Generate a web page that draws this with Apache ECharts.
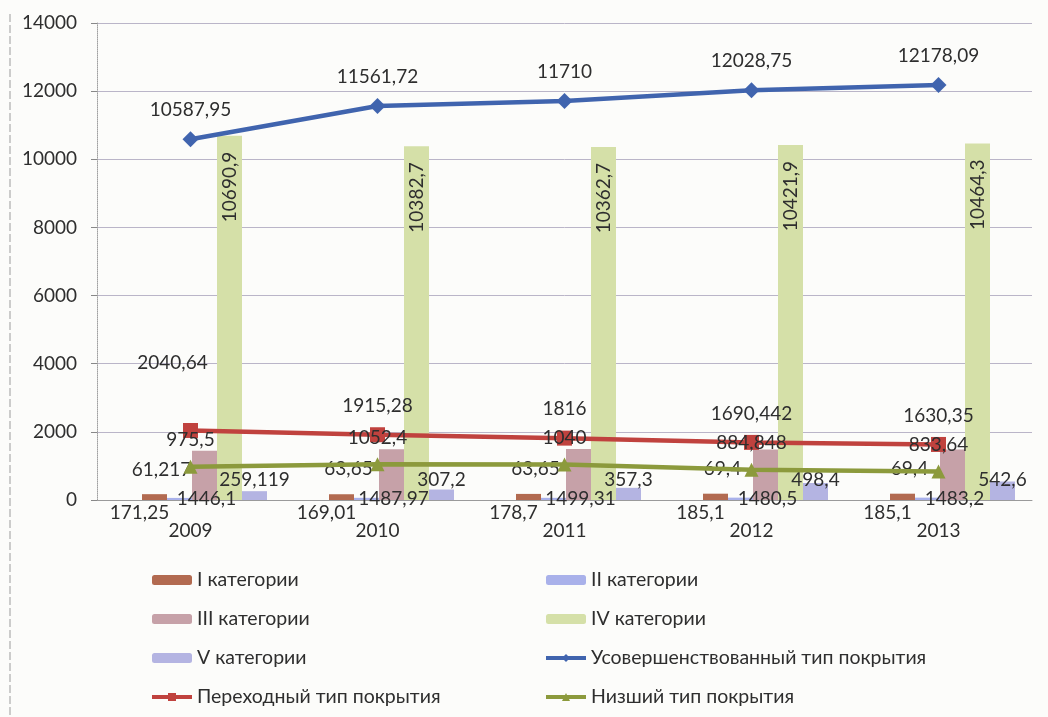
<!DOCTYPE html>
<html>
<head>
<meta charset="utf-8">
<title>Покрытие</title>
<script src="https://cdn.jsdelivr.net/npm/echarts@6/dist/echarts.min.js"></script>
<style>
  html, body { margin: 0; padding: 0; background: #fcfcfa; }
  #main { width: 1048px; height: 717px; }
</style>
</head>
<body>
<div id="main"></div>
<script>
var years = ['2009', '2010', '2011', '2012', '2013'];

// столбцы
var cat1 = [171.25, 169.01, 178.7, 185.1, 185.1];
var cat2 = [61.217, 63.65, 63.65, 69.4, 69.4];
var cat3 = [1446.1, 1487.97, 1499.31, 1480.5, 1483.2];
var cat4 = [10690.9, 10382.7, 10362.7, 10421.9, 10464.3];
var cat5 = [259.119, 307.2, 357.3, 498.4, 542.6];

// линии
var improved = [10587.95, 11561.72, 11710, 12028.75, 12178.09];
var transitional = [2040.64, 1915.28, 1816, 1690.442, 1630.35];
var lowest = [975.5, 1052.4, 1040, 884.848, 833.64];

var myChart = echarts.init(document.getElementById('main'));
var font = 'Lato, "Open Sans", sans-serif';
var txt = '#2e2e2e';

function fmt(v) {
    return String(v).replace('.', ',');
}

// сдвиг подписи для одной точки, как на исходнике
function shifted(values, idx, offset) {
    return values.map(function (v, i) {
        if (i !== idx) return v;
        return { value: v, label: { offset: offset } };
    });
}

function barSeries(name, data, color, label) {
    return {
        name: name,
        type: 'bar',
        xAxisIndex: 1,
        yAxisIndex: 1,
        barWidth: 25,
        barGap: '0%',
        itemStyle: { color: color },
        label: Object.assign({
            show: true,
            color: txt,
            fontFamily: font,
            fontSize: 19,
            formatter: function (p) { return fmt(p.value); }
        }, label),
        data: data,
        z: 2
    };
}

function lineSeries(name, data, color, symbol, size, label) {
    return {
        name: name,
        type: 'line',
        symbol: symbol,
        symbolSize: size,
        lineStyle: { color: color, width: 4.5 },
        itemStyle: { color: color },
        label: Object.assign({
            show: true,
            position: 'top',
            color: txt,
            fontFamily: font,
            fontSize: 19,
            formatter: function (p) { return fmt(p.value); }
        }, label),
        data: data,
        z: 5
    };
}

var legendText = { color: txt, fontSize: 19.5, lineHeight: 20, fontFamily: font };

var option = {
    backgroundColor: '#fcfcfa',
    animation: false,
    textStyle: { fontFamily: font },
    grid: [
        { left: 97, top: 23, width: 935, height: 477 },
        { left: 111, top: 23, width: 935, height: 477 }
    ],
    xAxis: [
        {
            type: 'category',
            gridIndex: 0,
            data: years,
            axisLine: { lineStyle: { color: '#9a9a9a' } },
            axisTick: { show: false },
            axisLabel: { color: txt, fontSize: 19, margin: 21, fontFamily: font }
        },
        {
            type: 'category',
            gridIndex: 1,
            data: years,
            show: false
        }
    ],
    yAxis: [
        {
            type: 'value',
            gridIndex: 0,
            min: 0,
            max: 14000,
            interval: 2000,
            axisLine: { show: true, lineStyle: { color: '#a0a0a0', type: 'dotted' } },
            axisTick: { show: true, length: 6, lineStyle: { color: '#888' } },
            axisLabel: {
                color: txt, fontSize: 19, margin: 20, fontFamily: font,
                formatter: function (v) { return String(v); }
            },
            splitLine: { lineStyle: { color: '#bab5c8', width: 1 } }
        },
        {
            type: 'value',
            gridIndex: 1,
            min: 0,
            max: 14000,
            interval: 2000,
            show: false,
            splitLine: { show: false }
        }
    ],
    legend: [
        {
            orient: 'vertical',
            left: 145,
            top: 565,
            itemWidth: 40,
            itemHeight: 10,
            itemGap: 19,
            textStyle: legendText,
            lineStyle: { width: 4 },
            data: ['I категории', 'III категории', 'V категории', 'Переходный тип покрытия']
        },
        {
            orient: 'vertical',
            left: 539,
            top: 565,
            itemWidth: 40,
            itemHeight: 10,
            itemGap: 19,
            textStyle: legendText,
            lineStyle: { width: 4 },
            data: ['II категории', 'IV категории', 'Усовершенствованный тип покрытия', 'Низший тип покрытия']
        }
    ],
    graphic: [
        {
            type: 'line',
            shape: { x1: 10, y1: 14, x2: 10, y2: 717 },
            style: { stroke: '#9c9c9c', lineWidth: 1, lineDash: [8, 3] }
        }
    ],
    series: [
        barSeries('I категории', cat1, '#b26a50', { position: 'bottom', distance: 3, offset: [-15, 0] }),
        barSeries('II категории', cat2, '#a9b1ea', { position: 'top', offset: [-18, -14] }),
        barSeries('III категории', cat3, '#c6a1a8', { position: 'insideBottom', offset: [2, 13] }),
        barSeries('IV категории', cat4, '#d5e0a8', {
            position: 'insideTop', rotate: 90, align: 'right', verticalAlign: 'middle', distance: 16
        }),
        barSeries('V категории', cat5, '#b4b4e2', { position: 'insideBottom', distance: 11 }),
        lineSeries('Усовершенствованный тип покрытия', improved,
            '#4064ae', 'diamond', 16, { distance: 12 }),
        lineSeries('Переходный тип покрытия', shifted(transitional, 0, [-18, -39]),
            '#c0423e', 'rect', 15, { distance: 12 }),
        lineSeries('Низший тип покрытия', lowest, '#8c9a3c', 'triangle', 14, { distance: 10 })
    ]
};

myChart.setOption(option);
</script>
</body>
</html>
